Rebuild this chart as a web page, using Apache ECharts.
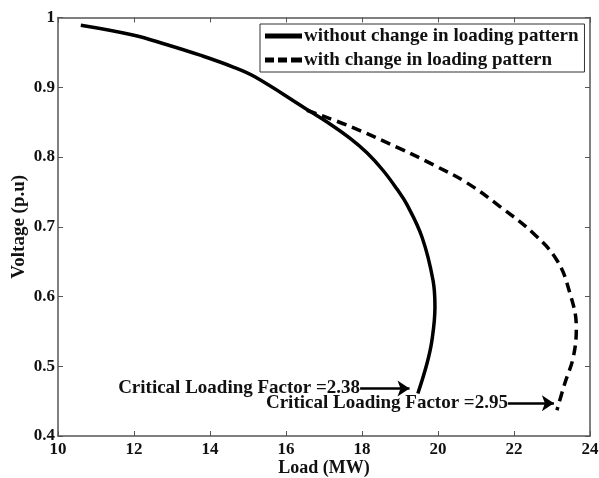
<!DOCTYPE html>
<html>
<head>
<meta charset="utf-8">
<script src="https://cdn.jsdelivr.net/npm/echarts@6/dist/echarts.min.js"></script>
<style>
  html, body { margin: 0; padding: 0; background: #fff; }
  #chart { width: 599px; height: 478px; }
</style>
</head>
<body>
<div id="chart"></div>
<script>
// P-V curve: load (MW) against bus voltage (p.u)
var loadBase = [10.6, 11.97, 12.87, 13.74, 14.61, 15.18, 16.5, 17.11, 17.68, 18.13, 18.55, 18.92, 19.18, 19.58, 19.87, 19.92, 19.84, 19.71, 19.47];
var voltBase = [0.989, 0.975, 0.961, 0.946, 0.929, 0.915, 0.870, 0.849, 0.827, 0.806, 0.781, 0.754, 0.732, 0.685, 0.623, 0.585, 0.537, 0.504, 0.461];

var loadChanged = [16.55, 17.68, 19.0, 19.87, 20.76, 21.63, 22.5, 23.13, 23.47, 23.64, 23.56, 23.34, 23.13];
var voltChanged = [0.867, 0.844, 0.812, 0.789, 0.763, 0.729, 0.691, 0.652, 0.605, 0.556, 0.513, 0.476, 0.437];

var seriesNames = ['without change in loading pattern', 'with change in loading pattern'];

// Critical loading factor call-outs: text, arrow start and arrow tip (data coords)
var criticalLabels = ['Critical Loading Factor =2.38', 'Critical Loading Factor =2.95'];
var arrowFrom = [[17.95, 0.468], [21.84, 0.447]];
var arrowTo = [[19.25, 0.468], [23.05, 0.447]];

function pairs(xs, ys) {
  return xs.map(function (x, i) { return [x, ys[i]]; });
}

var FONT = 'Liberation Serif';
var INK = '#111';
var AXIS = '#555';

var chart = echarts.init(document.getElementById('chart'), null, { renderer: 'canvas' });

var baseAxis = {
  type: 'value',
  axisLine: { show: true, onZero: false, lineStyle: { color: AXIS, width: 1.5 } },
  axisTick: { show: true, inside: true, length: 5, lineStyle: { color: AXIS, width: 1 } },
  splitLine: { show: false }
};

function labelFmt(v) { return String(Math.round(v * 10) / 10); }

function calloutLine(i) {
  return {
    silent: true,
    symbol: ['none', 'arrow'],
    symbolSize: 12,
    lineStyle: { color: '#000', width: 2.5, type: 'solid' },
    label: {
      show: true, position: 'start', distance: 0,
      fontFamily: FONT, fontWeight: 'bold', fontSize: 19, color: INK,
      formatter: criticalLabels[i]
    },
    data: [[{ coord: arrowFrom[i] }, { coord: arrowTo[i] }]]
  };
}

var option = {
  animation: false,
  backgroundColor: '#fff',
  grid: { left: 58, right: 9, top: 17.5, bottom: 42, containLabel: false, outerBoundsMode: 'none' },
  xAxis: [
    Object.assign({}, baseAxis, {
      min: 10, max: 24, interval: 2, position: 'bottom',
      name: 'Load (MW)', nameLocation: 'middle', nameGap: 23, nameMoveOverlap: false,
      nameTextStyle: { fontFamily: FONT, fontWeight: 'bold', fontSize: 18, color: INK },
      axisLabel: { fontFamily: FONT, fontWeight: 'bold', fontSize: 17, color: INK, margin: 5,
        formatter: labelFmt }
    }),
    Object.assign({}, baseAxis, {
      min: 10, max: 24, interval: 2, position: 'top',
      axisLabel: { show: false }
    })
  ],
  yAxis: [
    Object.assign({}, baseAxis, {
      min: 0.4, max: 1, interval: 0.1, position: 'left',
      name: 'Voltage (p.u)', nameLocation: 'middle', nameGap: 29, nameRotate: 90, nameMoveOverlap: false,
      nameTextStyle: { fontFamily: FONT, fontWeight: 'bold', fontSize: 19, color: INK },
      axisLabel: { fontFamily: FONT, fontWeight: 'bold', fontSize: 17, color: INK, margin: 3,
        formatter: labelFmt }
    }),
    Object.assign({}, baseAxis, {
      min: 0.4, max: 1, interval: 0.1, position: 'right',
      axisLabel: { show: false }
    })
  ],
  legend: {
    orient: 'vertical',
    left: 260, top: 24,
    padding: [2, 6, 2, 5],
    itemGap: 4,
    itemWidth: 37, itemHeight: 5,
    borderColor: '#333', borderWidth: 1, borderRadius: 0,
    backgroundColor: '#fff',
    itemStyle: { color: '#000' },
    textStyle: { fontFamily: FONT, fontWeight: 'bold', fontSize: 19, lineHeight: 20, color: INK, padding: [0, 0, 0, -3] },
    data: [
      { name: seriesNames[0], icon: 'path://M0,0H37V5H0Z' },
      { name: seriesNames[1], icon: 'path://M0,0H9V5H0Z M13,0H22V5H13Z M26,0H37V5H26Z' }
    ]
  },
  series: [
    {
      name: seriesNames[0],
      type: 'line',
      data: pairs(loadBase, voltBase),
      smooth: 0.4,
      symbol: 'none',
      lineStyle: { color: '#000', width: 3.5, type: 'solid' },
      itemStyle: { color: '#000' },
      markLine: calloutLine(0)
    },
    {
      name: seriesNames[1],
      type: 'line',
      data: pairs(loadChanged, voltChanged),
      smooth: 0.4,
      symbol: 'none',
      lineStyle: { color: '#000', width: 3.5, type: [10, 6] },
      itemStyle: { color: '#000' },
      markLine: calloutLine(1)
    }
  ]
};

chart.setOption(option);
</script>
</body>
</html>
